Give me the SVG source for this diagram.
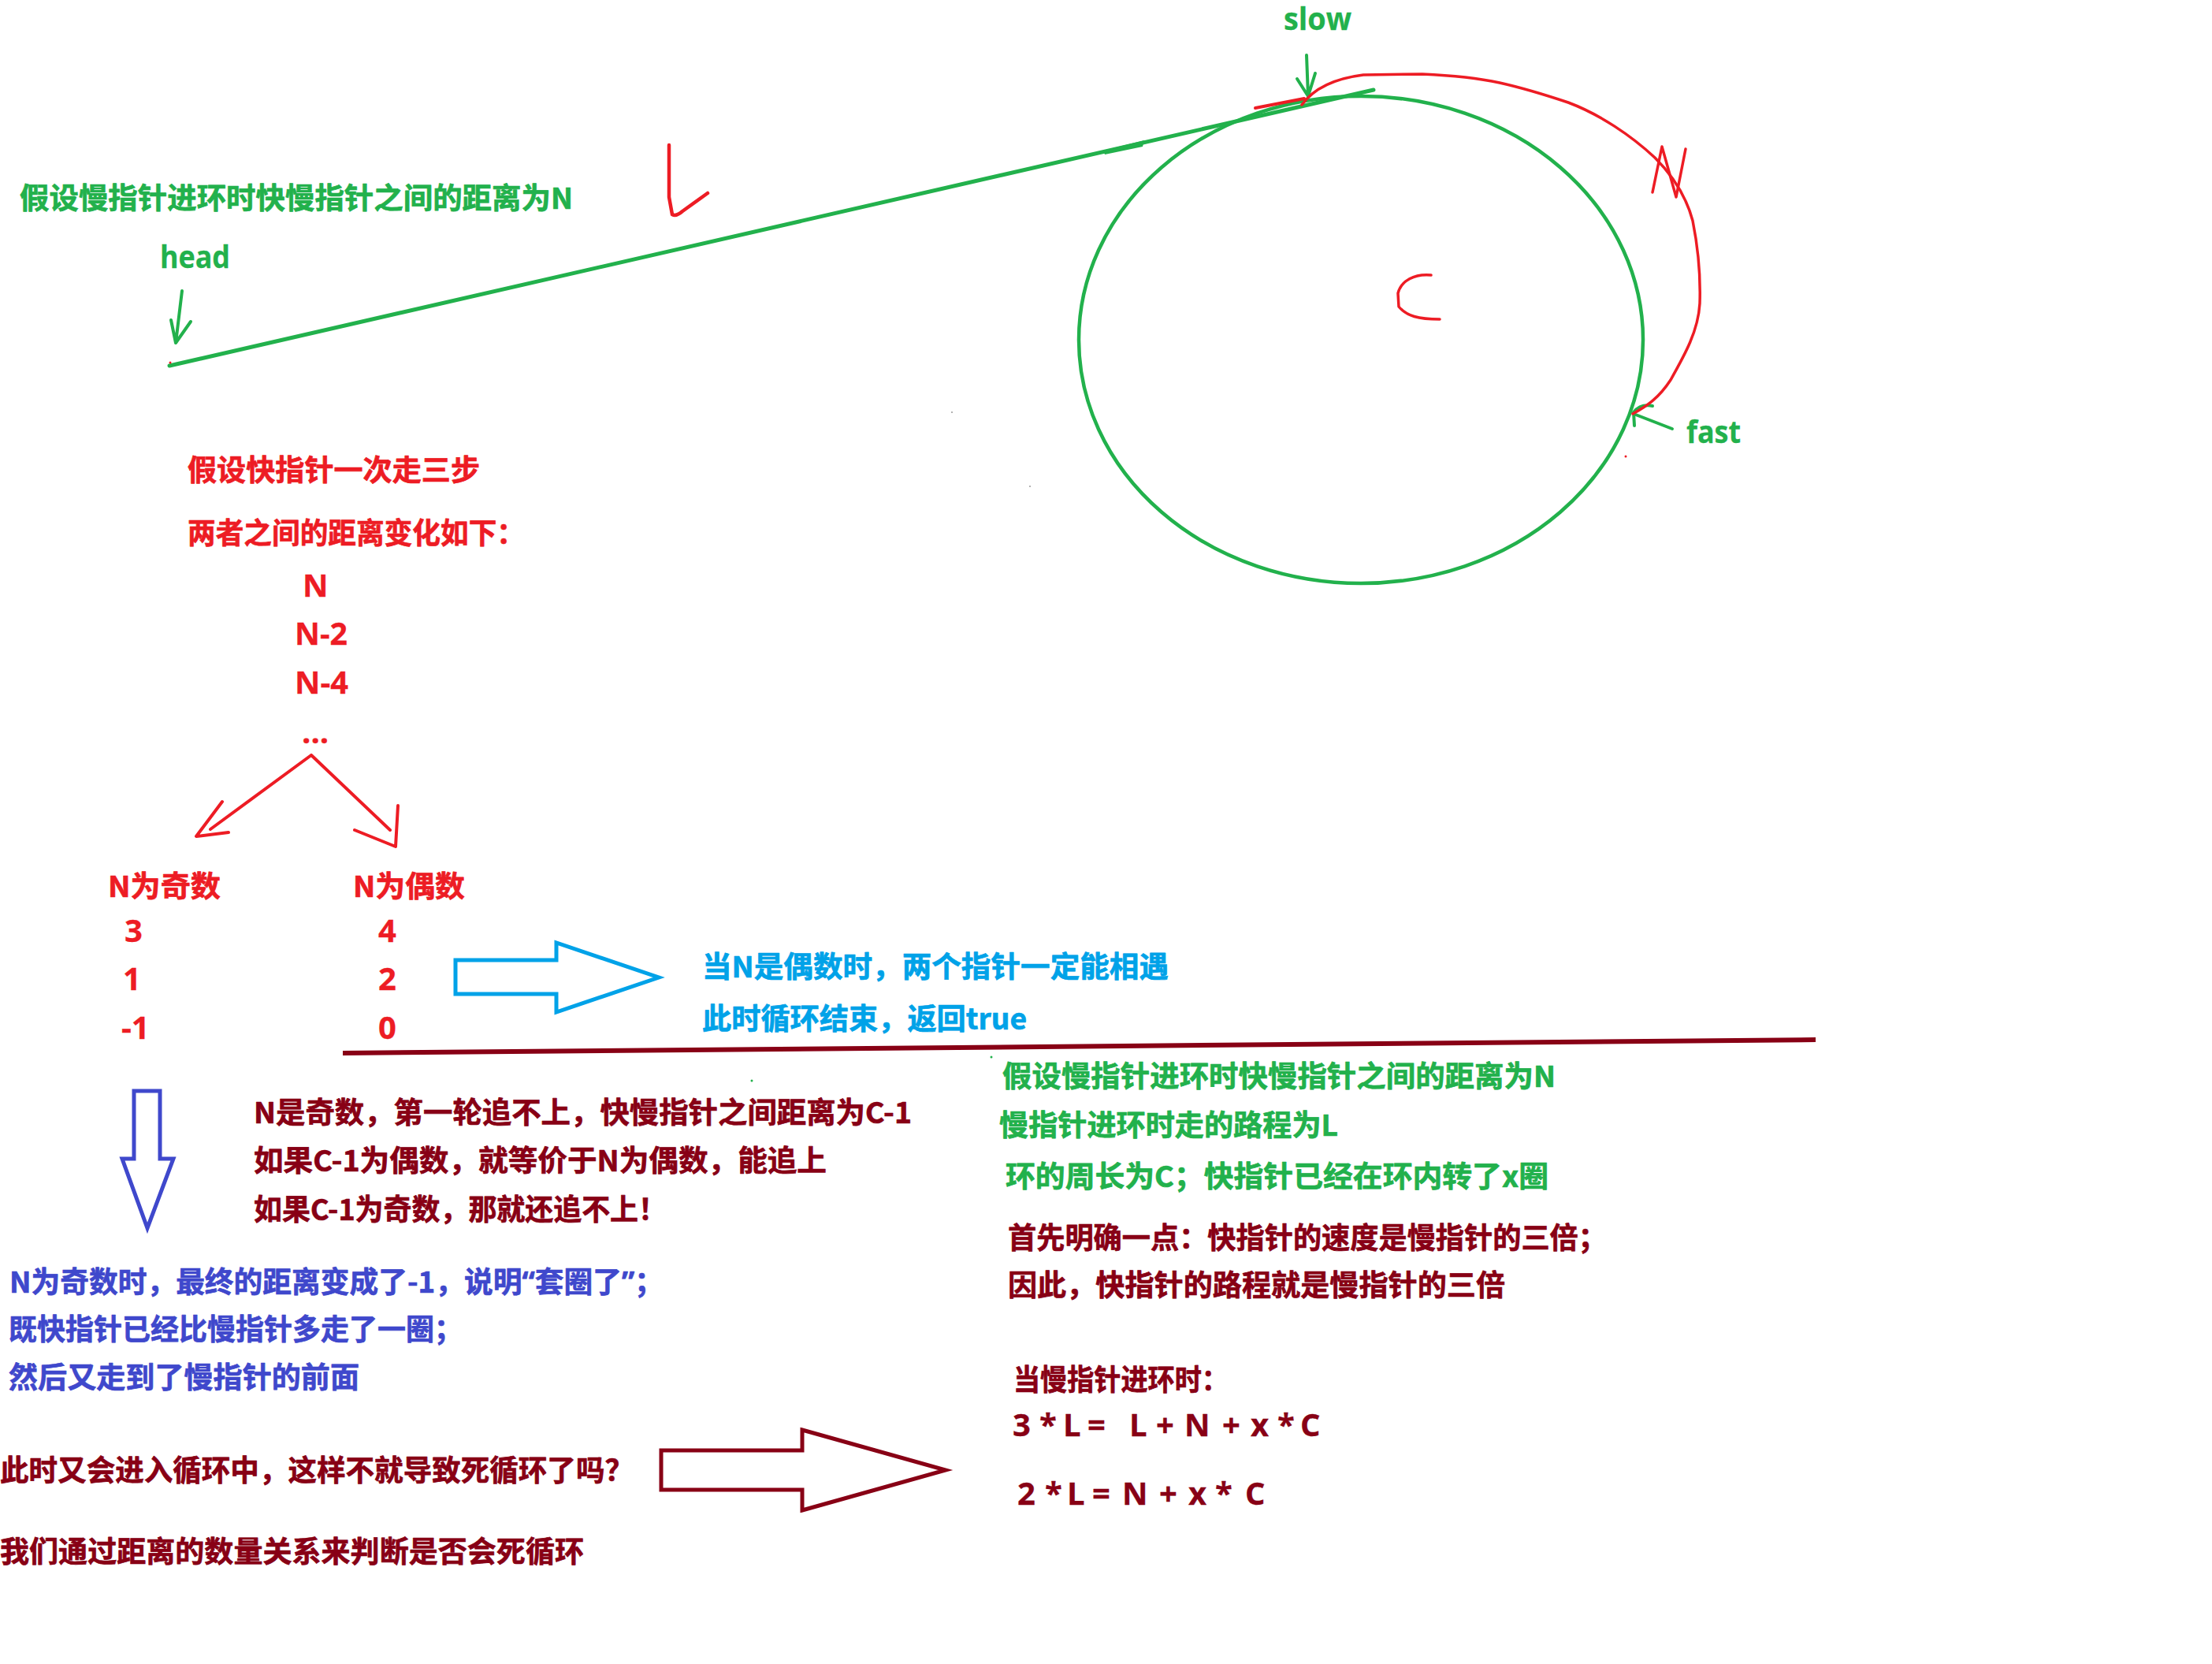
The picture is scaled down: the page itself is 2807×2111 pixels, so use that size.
<svg xmlns="http://www.w3.org/2000/svg" width="2807" height="2111" viewBox="0 0 2807 2111">
<style>
.cjk{font-family:"Noto Sans CJK SC","Noto Sans",sans-serif;font-weight:bold;font-size:37px;stroke-width:0.7px;stroke-linejoin:round}
.lat{font-family:"Open Sans","Noto Sans",sans-serif;font-weight:bold;font-size:40px}
.q{font-family:"Noto Sans",sans-serif}
.g{fill:#22b14c;stroke:#22b14c}.r{fill:#ed1c24;stroke:#ed1c24}.b{fill:#00a2e8;stroke:#00a2e8}.dr{fill:#880015;stroke:#880015}.ind{fill:#3f48cc;stroke:#3f48cc}
.lat.g,.lat.r,.lat.dr{stroke-width:0.3px}
.sg{stroke:#22b14c;fill:none;stroke-linecap:round;stroke-linejoin:round}
.sr{stroke:#ed1c24;fill:none;stroke-linecap:round;stroke-linejoin:round}
.blk{fill:#ffffff;stroke-linejoin:miter}
</style>
<rect width="2807" height="2111" fill="#ffffff"/>

<g id="ring">
<ellipse cx="1727" cy="431" rx="358" ry="309" class="sg" stroke-width="4.5"/>
<path class="sr" stroke-width="3.5" d="M1816,349 C1795,347 1778,356 1774,372 L1775,389 C1785,401 1800,405 1827,405"/>
</g>

<g id="list-line">
<line x1="215" y1="464" x2="1743" y2="114" class="sg" stroke-width="5"/>
<path d="M1400,191 L1452,178 L1450,186 L1402,196 Z" fill="#22b14c"/>
<path class="sr" stroke-width="4.5" d="M849,184 L849,250 L853,272 Q858,275 866,268 L898,245"/>
</g>

<g id="labels-top">
<text class="cjk g" x="25" y="265" textLength="702" lengthAdjust="spacingAndGlyphs">假设慢指针进环时快慢指针之间的距离为N</text>
<text class="lat g" x="203" y="340" font-size="36" textLength="89" lengthAdjust="spacingAndGlyphs">head</text>
<text class="lat g" x="1629" y="38" font-size="38" textLength="86" lengthAdjust="spacingAndGlyphs">slow</text>
<text class="lat g" x="2140" y="562" font-size="37" textLength="69" lengthAdjust="spacingAndGlyphs">fast</text>
</g>

<g id="connectors">
<path class="sg" stroke-width="4" d="M231,369 L223,435 M217,406 L223,435 L242,408"/>
<path class="sg" stroke-width="4" d="M1658,70 L1660,122 M1646,100 L1660,122 L1669,93"/>
<path class="sg" stroke-width="4" d="M2122,544 L2073,525 M2074,540 L2073,523 Q2082,512 2097,515"/>
<path class="sr" stroke-width="4" d="M1593,137 L1655,125"/>
<path class="sr" stroke-width="3.5" d="M1652,133 C1665,115 1690,100 1730,95 L1805,94 C1850,96 1880,100 1903,105 C1930,111 1960,120 1990,130 C2030,145 2070,172 2100,200 C2125,225 2140,250 2148,280 C2156,320 2158,355 2157,385 C2155,420 2138,450 2120,482 C2105,505 2090,515 2072,525"/>
<path class="sr" stroke-width="3.5" d="M2097,244 L2109,186 L2127,250 L2139,189"/>
<path class="sr" stroke-width="4" d="M395,958 L267,1052 M282,1017 L249,1061 L290,1056 M395,958 L495,1053 M450,1053 L502,1074 L505,1022"/>
<line x1="435" y1="1336" x2="2304" y2="1319" stroke="#880015" stroke-width="6"/>
<polygon class="blk" stroke="#00a2e8" stroke-width="5" points="578,1218 706,1218 706,1196 836,1240 706,1284 706,1261 578,1261"/>
<polygon class="blk" stroke="#3f48cc" stroke-width="5" points="170,1384 203,1384 203,1470 220,1470 187,1558 155,1470 170,1470"/>
<polygon class="blk" stroke="#880015" stroke-width="5" points="839,1840 1018,1840 1018,1814 1200,1865 1018,1916 1018,1890 839,1890"/>
</g>

<g id="specks">
<circle cx="216" cy="460" r="1.5" fill="#ed1c24"/>
<circle cx="2063" cy="579" r="1.5" fill="#ed1c24"/>
<circle cx="1258" cy="1341" r="1.5" fill="#22b14c"/>
<circle cx="954" cy="1371" r="1.5" fill="#22b14c"/>
<circle cx="1208" cy="523" r="1" fill="#999999"/>
<circle cx="1307" cy="617" r="1" fill="#999999"/>
</g>

<g id="step-text">
<text class="cjk r" x="238" y="610" textLength="371" lengthAdjust="spacingAndGlyphs">假设快指针一次走三步</text>
<text class="cjk r" x="238" y="690" textLength="428" lengthAdjust="spacingAndGlyphs">两者之间的距离变化如下：</text>
<text class="lat r" x="384" y="757">N</text>
<text class="lat r" x="374" y="818" textLength="67" lengthAdjust="spacingAndGlyphs">N-2</text>
<text class="lat r" x="374" y="880" textLength="68" lengthAdjust="spacingAndGlyphs">N-4</text>
<text class="lat r" x="383" y="943" font-size="42">...</text>
</g>

<g id="odd-even">
<text class="cjk r" x="137" y="1138" textLength="143" lengthAdjust="spacingAndGlyphs">N为奇数</text>
<text class="cjk r" x="448" y="1138" textLength="142" lengthAdjust="spacingAndGlyphs">N为偶数</text>
<text class="lat r" x="158" y="1195">3</text>
<text class="lat r" x="156" y="1256">1</text>
<text class="lat r" x="154" y="1318">-1</text>
<text class="lat r" x="480" y="1195">4</text>
<text class="lat r" x="480" y="1256">2</text>
<text class="lat r" x="480" y="1318">0</text>
</g>

<g id="even-result">
<text class="cjk b" x="891" y="1240" textLength="592" lengthAdjust="spacingAndGlyphs">当N是偶数时，两个指针一定能相遇</text>
<text class="cjk b" x="891" y="1306" textLength="412" lengthAdjust="spacingAndGlyphs">此时循环结束，返回true</text>
</g>

<g id="odd-explain">
<text class="cjk dr" x="322" y="1425" textLength="835" lengthAdjust="spacingAndGlyphs">N是奇数，第一轮追不上，快慢指针之间距离为C-1</text>
<text class="cjk dr" x="322" y="1486" textLength="727" lengthAdjust="spacingAndGlyphs">如果C-1为偶数，就等价于N为偶数，能追上</text>
<text class="cjk dr" x="322" y="1548" textLength="524" lengthAdjust="spacingAndGlyphs">如果C-1为奇数，那就还追不上！</text>
</g>

<g id="odd-loop">
<text class="cjk ind" x="12" y="1640" textLength="830" lengthAdjust="spacingAndGlyphs">N为奇数时，最终的距离变成了-1，说明<tspan class="q">“</tspan>套圈了<tspan class="q">”</tspan>；</text>
<text class="cjk ind" x="11" y="1700" textLength="576" lengthAdjust="spacingAndGlyphs">既快指针已经比慢指针多走了一圈；</text>
<text class="cjk ind" x="11" y="1761" textLength="445" lengthAdjust="spacingAndGlyphs">然后又走到了慢指针的前面</text>
</g>

<g id="question">
<text class="cjk dr" x="0" y="1879" textLength="804" lengthAdjust="spacingAndGlyphs">此时又会进入循环中，这样不就导致死循环了吗？</text>
<text class="cjk dr" x="0" y="1982" textLength="741" lengthAdjust="spacingAndGlyphs">我们通过距离的数量关系来判断是否会死循环</text>
</g>

<g id="assumptions">
<text class="cjk g" x="1272" y="1379" textLength="702" lengthAdjust="spacingAndGlyphs">假设慢指针进环时快慢指针之间的距离为N</text>
<text class="cjk g" x="1268" y="1441" textLength="430" lengthAdjust="spacingAndGlyphs">慢指针进环时走的路程为L</text>
<text class="cjk g" x="1276" y="1506" textLength="689" lengthAdjust="spacingAndGlyphs">环的周长为C；快指针已经在环内转了x圈</text>
<text class="cjk dr" x="1279" y="1584" textLength="760" lengthAdjust="spacingAndGlyphs">首先明确一点：快指针的速度是慢指针的三倍；</text>
<text class="cjk dr" x="1279" y="1644" textLength="631" lengthAdjust="spacingAndGlyphs">因此，快指针的路程就是慢指针的三倍</text>
</g>

<g id="equations">
<text class="cjk dr" x="1286" y="1764" textLength="273" lengthAdjust="spacingAndGlyphs">当慢指针进环时：</text>
<text class="lat dr" y="1822" xml:space="preserve"><tspan x="1285">3</tspan> <tspan x="1319">*</tspan> <tspan x="1349">L</tspan> <tspan x="1380">=</tspan>  <tspan x="1433">L</tspan> <tspan x="1467">+</tspan> <tspan x="1503">N</tspan> <tspan x="1551">+</tspan> <tspan x="1587">x</tspan> <tspan x="1621">*</tspan> <tspan x="1650">C</tspan></text>
<text class="lat dr" y="1909" xml:space="preserve"><tspan x="1291">2</tspan> <tspan x="1326">*</tspan> <tspan x="1354">L</tspan> <tspan x="1386">=</tspan> <tspan x="1424">N</tspan> <tspan x="1471">+</tspan> <tspan x="1508">x</tspan> <tspan x="1542">*</tspan>  <tspan x="1580">C</tspan></text>
</g>
</svg>
